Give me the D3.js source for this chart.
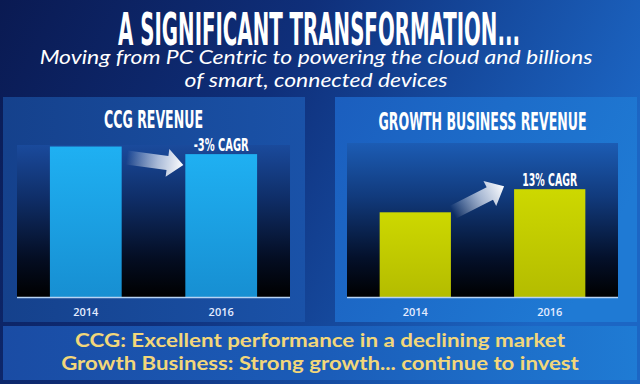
<!DOCTYPE html>
<html>
<head>
<meta charset="utf-8">
<script src="https://cdn.jsdelivr.net/npm/d3@7"></script>
<style>
	html, body { margin: 0; padding: 0; background: #0d1f5c; }
	svg { display: block; }
</style>
</head>
<body>
<svg id="chart" width="640" height="384"></svg>
<script>
//chart data
var years = ["2014", "2016"];
var ccgValues = [99, 94];
var growthValues = [55, 70];
var ccgCagr = "-3% CAGR";
var growthCagr = "13% CAGR";

var titleText = "A SIGNIFICANT TRANSFORMATION...";
var subtitleLines = ["Moving from PC Centric to powering the cloud and billions", "of smart, connected devices"];
var footerLines = ["CCG: Excellent performance in a declining market", "Growth Business: Strong growth... continue to invest"];

var svg = d3.select("#chart");
var defs = svg.append("defs");

var condensed = "'Liberation Sans Narrow', 'DejaVu Sans Condensed', sans-serif";

function linGrad(id, x2, y2, stops){
	var g = defs.append("linearGradient").attr("id", id)
		.attr("x1", 0).attr("y1", 0).attr("x2", x2).attr("y2", y2);
	stops.forEach(function(s){
		g.append("stop").attr("offset", s[0]).attr("stop-color", s[1]).attr("stop-opacity", s[2] == null ? 1 : s[2]);
	});
}

//squeeze/stretch a text horizontally so that it is exactly `width` wide, centred on cx
function fitText(sel, cx, y, width){
	sel.attr("x", 0).attr("y", 0).attr("text-anchor", "middle");
	var w = sel.node().getComputedTextLength();
	sel.attr("transform", "translate(" + cx + "," + y + ") scale(" + (width / w) + ",1)");
	return sel;
}

linGrad("bgGrad", 1, 0.3, [[0, "#0a1a52"], [0.45, "#0f2f7a"], [1, "#1c66c4"]]);
linGrad("leftPanel", 1, 0, [[0, "#15418c"], [1, "#1a52a8"]]);
linGrad("rightPanel", 1, 0.4, [[0, "#1b5ebe"], [1, "#1f7ad4"]]);
linGrad("bandGrad", 1, 0, [[0, "#1a4ca4"], [0.5, "#1b5cb8"], [1, "#1f7bd4"]]);
linGrad("plotLeft", 0, 1, [[0, "#1a4a9c"], [0.35, "#0f2e68"], [0.75, "#040d22"], [1, "#000000"]]);
linGrad("plotRight", 0, 1, [[0, "#1c5cb4"], [0.35, "#113a7c"], [0.75, "#04102a"], [1, "#000000"]]);
linGrad("barBlue", 0, 1, [[0, "#1fb0f2"], [1, "#178fd2"]]);
linGrad("barYellow", 0, 1, [[0, "#cdd800"], [1, "#b4bc00"]]);
linGrad("arrowGrad", 1, 0, [[0, "#ffffff", 0], [0.55, "#e8eef8", 0.7], [1, "#ffffff", 1]]);

//background and boxes
svg.append("rect").attr("width", 640).attr("height", 384).attr("fill", "url(#bgGrad)");
svg.append("rect").attr("x", 3).attr("y", 97).attr("width", 302).attr("height", 225).attr("fill", "url(#leftPanel)");
svg.append("rect").attr("x", 335).attr("y", 97).attr("width", 302).attr("height", 225).attr("fill", "url(#rightPanel)");
svg.append("rect").attr("x", 3).attr("y", 326).attr("width", 634).attr("height", 54).attr("fill", "url(#bandGrad)");

//headline
fitText(svg.append("text")
	.style("font-family", condensed)
	.style("font-weight", "bold")
	.style("font-size", "44px")
	.style("fill", "#ffffff")
	.text(titleText), 319, 45, 402);

var subWidths = [553, 263];
svg.selectAll(".subtitle").data(subtitleLines).enter().append("text")
	.attr("class", "subtitle")
	.style("font-family", "Lato, 'Open Sans', sans-serif")
	.style("font-style", "italic")
	.style("font-size", "19px")
	.style("fill", "#ffffff")
	.text(function(d){ return d; })
	.each(function(d, i){ fitText(d3.select(this), 316, 64 + i * 23, subWidths[i]); });

var footWidths = [490, 518];
svg.selectAll(".footer").data(footerLines).enter().append("text")
	.attr("class", "footer")
	.style("font-family", "Lato, 'Open Sans', sans-serif")
	.style("font-weight", "bold")
	.style("font-size", "19px")
	.style("fill", "#f2d77a")
	.text(function(d){ return d; })
	.each(function(d, i){ fitText(d3.select(this), 320, 347 + i * 23, footWidths[i]); });

//one bar panel; arrowTail/arrowTip are offsets from the bar corners
function barPanel(opts){
	var g = svg.append("g");
	var x = d3.scaleBand().domain(years).range([opts.x0, opts.x1]).paddingInner(0.47).paddingOuter(0.243);
	var y = d3.scaleLinear().domain([0, 100]).range([opts.base, opts.top]);

	g.append("rect")
		.attr("x", opts.x0).attr("y", opts.top)
		.attr("width", opts.x1 - opts.x0).attr("height", opts.base - opts.top)
		.attr("fill", opts.plotFill);

	g.selectAll(".bar").data(opts.values).enter().append("rect")
		.attr("class", "bar")
		.attr("x", function(d, i){ return x(years[i]); })
		.attr("y", function(d){ return y(d); })
		.attr("width", x.bandwidth())
		.attr("height", function(d){ return opts.base - y(d); })
		.attr("fill", opts.barFill);

	g.append("line")
		.attr("x1", opts.x0).attr("x2", opts.x1)
		.attr("y1", opts.base + 0.5).attr("y2", opts.base + 0.5)
		.attr("stroke", "#b8d4f4").attr("stroke-width", 1.5);

	g.selectAll(".year").data(years).enter().append("text")
		.attr("class", "year")
		.attr("x", function(d){ return x(d) + x.bandwidth() / 2; })
		.attr("y", opts.base + 19)
		.attr("text-anchor", "middle")
		.style("font-family", "'Open Sans', 'Noto Sans', sans-serif")
		.style("font-weight", 600)
		.style("font-size", "11px")
		.style("fill", "#e4ecff")
		.text(function(d){ return d; });

	//panel heading
	fitText(g.append("text")
		.style("font-family", condensed)
		.style("font-weight", "bold")
		.style("font-size", "24px")
		.style("fill", "#ffffff")
		.text(opts.title), (opts.x0 + opts.x1) / 2, opts.titleY, opts.titleWidth);

	//CAGR label over the second bar
	fitText(g.append("text")
		.style("font-family", condensed)
		.style("font-weight", "bold")
		.style("font-size", "17px")
		.style("fill", "#ffffff")
		.text(opts.cagr), x(years[1]) + x.bandwidth() / 2, y(opts.values[1]) - 3, opts.cagrWidth);

	//block arrow between the two bars
	var tx = x(years[0]) + x.bandwidth() + opts.arrowTail[0], ty = y(opts.values[0]) + opts.arrowTail[1];
	var hx = x(years[1]) + opts.arrowTip[0], hy = y(opts.values[1]) + opts.arrowTip[1];
	var len = Math.sqrt((hx - tx) * (hx - tx) + (hy - ty) * (hy - ty));
	var ang = Math.atan2(hy - ty, hx - tx) * 180 / Math.PI;
	var sw = 7, hw = 14, hl = 16;
	var pts = [[0, -sw], [len - hl, -sw], [len - hl, -hw], [len, 0], [len - hl, hw], [len - hl, sw], [0, sw]];
	g.append("path")
		.attr("d", d3.line()(pts) + "Z")
		.attr("transform", "translate(" + tx + "," + ty + ") rotate(" + ang + ")")
		.attr("fill", "url(#arrowGrad)");
}

barPanel({x0: 17, x1: 290, top: 145, base: 297, values: ccgValues, plotFill: "url(#plotLeft)", barFill: "url(#barBlue)",
	title: "CCG REVENUE", titleY: 128, titleWidth: 99, cagr: ccgCagr, cagrWidth: 55, arrowTail: [5, 11], arrowTip: [-2, 11]});
barPanel({x0: 347, x1: 618, top: 143, base: 297, values: growthValues, plotFill: "url(#plotRight)", barFill: "url(#barYellow)",
	title: "GROWTH BUSINESS REVENUE", titleY: 130, titleWidth: 208, cagr: growthCagr, cagrWidth: 55, arrowTail: [2, 0], arrowTip: [-10, -3]});
</script>
</body>
</html>
